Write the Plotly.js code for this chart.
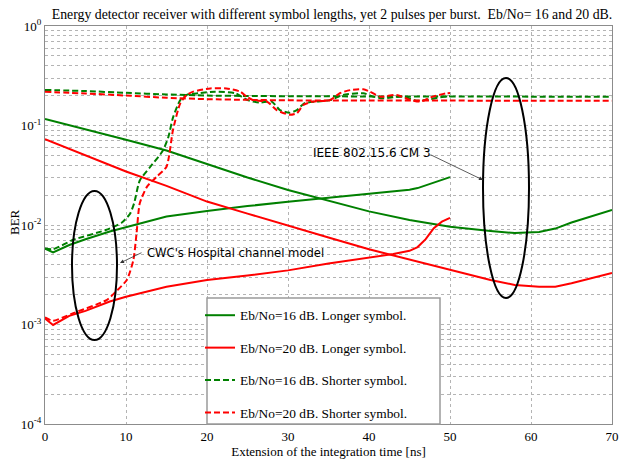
<!DOCTYPE html>
<html><head><meta charset="utf-8">
<script src="https://cdn.plot.ly/plotly-3.0.1.min.js"></script>
<style>html,body{margin:0;padding:0;background:#fff}#chart{width:619px;height:460px}</style>
</head><body><div id="chart"></div>
<script>
// ---- Data ----
const chartTitle = 'Energy detector receiver with different symbol lengths, yet 2 pulses per burst.  Eb/No= 16 and 20 dB.';
const xTitle = 'Extension of the integration time [ns]';
const yTitle = 'BER';
const seriesNames = ['Eb/No=16 dB. Longer symbol.', 'Eb/No=20 dB. Longer symbol.', 'Eb/No=16 dB. Shorter symbol.', 'Eb/No=20 dB. Shorter symbol.'];
const xTickVals = [0, 10, 20, 30, 40, 50, 60, 70];
const yTickVals = [1e-4, 1e-3, 1e-2, 1e-1, 1];
const yTickText = ['10<sup>-4</sup>', '10<sup>-3</sup>', '10<sup>-2</sup>', '10<sup>-1</sup>', '10<sup>0</sup>'];
const noteCM3 = 'IEEE 802.15.6 CM 3';
const noteCWC = "CWC's Hospital channel model";

// IEEE 802.15.6 CM 3 channel, longer symbol
const cm3LongX   = [0, 5, 10, 15, 20, 25, 30, 35, 40, 45, 50, 55, 58, 61, 63, 65, 70];
const cm3Long16  = [0.116, 0.092, 0.072, 0.056, 0.041, 0.030, 0.0225, 0.0175, 0.0137, 0.0112, 0.0096, 0.0087, 0.0083, 0.0085, 0.0092, 0.0106, 0.0142];
const cm3Long20  = [0.073, 0.050, 0.0345, 0.0247, 0.0172, 0.0130, 0.0098, 0.0075, 0.0057, 0.0045, 0.0035, 0.0028, 0.0025, 0.0024, 0.0024, 0.0026, 0.0033];
// IEEE 802.15.6 CM 3 channel, shorter symbol
const cm3ShortX  = [0, 5, 10, 15, 20, 25, 30, 40, 50, 60, 70];
const cm3Short16 = [0.228, 0.222, 0.213, 0.205, 0.200, 0.198, 0.197, 0.196, 0.196, 0.195, 0.195];
const cm3Short20 = [0.218, 0.210, 0.200, 0.190, 0.184, 0.181, 0.179, 0.178, 0.178, 0.177, 0.177];
// CWC hospital channel, longer symbol
const cwcLongX   = [0, 1, 3, 5, 8, 10, 15, 20, 25, 30, 35, 40, 43, 45, 46, 47, 48, 49, 50];
const cwcLong16  = [0.0058, 0.0053, 0.0063, 0.0072, 0.0086, 0.0095, 0.0122, 0.0138, 0.0155, 0.0171, 0.0188, 0.0207, 0.0216, 0.0226, 0.0235, 0.0250, 0.0268, 0.0285, 0.0303];
const cwcLong20  = [0.00115, 0.00099, 0.00122, 0.00137, 0.0017, 0.0019, 0.0024, 0.0028, 0.0031, 0.0035, 0.0041, 0.0047, 0.0051, 0.0055, 0.0060, 0.0072, 0.0093, 0.0108, 0.0118];
// CWC hospital channel, shorter symbol
const cwcShort16X = [0, 1, 3.5, 7.5, 9.5, 10.5, 11, 11.7, 13, 14.5, 15.2, 15.8, 16.7, 17.5, 19, 21, 23.5, 25, 26.5, 28, 29, 30.2, 31.1, 32, 33.5, 35.2, 36.8, 39.3, 40.5, 41.7, 44.2, 46, 47.5, 49.2, 50];
const cwcShort16  = [0.0058, 0.0057, 0.0071, 0.0089, 0.0106, 0.0130, 0.0165, 0.028, 0.0385, 0.055, 0.075, 0.12, 0.18, 0.203, 0.211, 0.219, 0.211, 0.180, 0.170, 0.174, 0.143, 0.134, 0.143, 0.167, 0.174, 0.180, 0.203, 0.211, 0.195, 0.188, 0.195, 0.177, 0.183, 0.195, 0.197];
const cwcShort20X = [0, 1, 3.5, 7.6, 8.9, 10.1, 10.9, 11.3, 11.7, 12.6, 13.8, 15, 15.8, 16.7, 17.5, 18.3, 20.4, 22.4, 24.1, 24.9, 25.7, 27.4, 28.6, 30.2, 31.1, 31.9, 33.1, 35.2, 36.4, 37.7, 39.3, 40.1, 41.4, 43.4, 45.1, 46.3, 47.9, 49.6, 50];
const cwcShort20  = [0.00118, 0.00109, 0.0013, 0.00176, 0.0022, 0.0028, 0.0044, 0.0082, 0.0165, 0.0243, 0.0306, 0.0385, 0.090, 0.167, 0.203, 0.219, 0.236, 0.236, 0.219, 0.195, 0.180, 0.174, 0.143, 0.128, 0.133, 0.161, 0.174, 0.180, 0.211, 0.227, 0.231, 0.219, 0.195, 0.203, 0.180, 0.174, 0.195, 0.211, 0.212];

// ---- Styles ----
const GREEN = '#008000', RED = '#ff0000';
const SERIF = '"Liberation Serif", "Times New Roman", serif';
const SANS = '"DejaVu Sans", Verdana, sans-serif';
const DASH = '6px,3px';
const GRID = '#b4b4b4';

function tr(x, y, color, dashed, idx, show, spline) {
  return {
    type: 'scatter', mode: 'lines', x: x, y: y,
    name: seriesNames[idx], legendgroup: 'g' + idx, showlegend: show,
    line: {color: color, width: 2, dash: dashed ? DASH : 'solid', shape: spline ? 'spline' : 'linear', smoothing: 0.6},
    hoverinfo: 'x+y+name'
  };
}

const data = [
  tr(cm3LongX, cm3Long16, GREEN, false, 0, true),
  tr(cwcLongX, cwcLong16, GREEN, false, 0, false),
  tr(cm3LongX, cm3Long20, RED, false, 1, true),
  tr(cwcLongX, cwcLong20, RED, false, 1, false),
  tr(cm3ShortX, cm3Short16, GREEN, true, 2, true, true),
  tr(cwcShort16X, cwcShort16, GREEN, true, 2, false, true),
  tr(cm3ShortX, cm3Short20, RED, true, 3, true, true),
  tr(cwcShort20X, cwcShort20, RED, true, 3, false, true)
];

const minorY = [];
for (let e = -4; e < 0; e++) for (let m = 2; m <= 9; m++) minorY.push(m * Math.pow(10, e));

// plot area: x 45..612, y 26..424
const PL = 45, PR = 612, PT = 26, PB = 424;
const px = v => (v - PL) / (PR - PL);
const py = v => (PB - v) / (PB - PT);

const layout = {
  width: 619, height: 460,
  margin: {l: PL, r: 619 - PR, t: PT, b: 460 - PB},
  paper_bgcolor: '#ffffff', plot_bgcolor: '#ffffff',
  showlegend: true,
  title: {text: chartTitle, font: {family: SERIF, size: 13.8, color: '#000'}, xref: 'container', x: 332 / 619, xanchor: 'center', yref: 'container', y: 1 - 14 / 460, yanchor: 'middle'},
  xaxis: {
    range: [0, 70], tickmode: 'array', tickvals: xTickVals, ticks: '',
    showgrid: true, gridcolor: GRID, griddash: 'dot', gridwidth: 1,
    showline: true, linecolor: '#8c8c8c', linewidth: 1, mirror: true, zeroline: false,
    tickfont: {family: SERIF, size: 13, color: '#000'},
    title: {text: xTitle, font: {family: SERIF, size: 13, color: '#000'}, standoff: 2}
  },
  yaxis: {
    type: 'log', range: [-4, 0], tickmode: 'array', tickvals: yTickVals, ticktext: yTickText, ticks: '',
    showgrid: true, gridcolor: GRID, griddash: 'dot', gridwidth: 1,
    minor: {tickmode: 'array', tickvals: minorY, showgrid: true, gridcolor: GRID, griddash: 'dot', gridwidth: 1, ticks: ''},
    showline: true, linecolor: '#8c8c8c', linewidth: 1, mirror: true, zeroline: false,
    tickfont: {family: SERIF, size: 13, color: '#000'}
  },
  legend: {
    x: px(200), y: py(300), xanchor: 'left', yanchor: 'top',
    bgcolor: 'rgba(0,0,0,0)', borderwidth: 0, tracegroupgap: 12,
    font: {family: SERIF, size: 13.4, color: '#000'}
  },
  shapes: [
    {type: 'rect', xref: 'paper', yref: 'paper', x0: px(207), x1: px(440), y0: 0, y1: py(298), fillcolor: '#ffffff', line: {color: '#9a9a9a', width: 1.5}, layer: 'above'},
    {type: 'circle', xref: 'paper', yref: 'paper', x0: px(72), x1: px(117), y0: py(340), y1: py(191), line: {color: '#000', width: 2}, layer: 'above'},
    {type: 'circle', xref: 'paper', yref: 'paper', x0: px(483), x1: px(529), y0: py(298), y1: py(78), line: {color: '#000', width: 2}, layer: 'above'}
  ],
  annotations: [
    {xref: 'paper', yref: 'paper', x: px(14), y: py(222), xanchor: 'center', yanchor: 'middle', text: yTitle, textangle: -90, showarrow: false, font: {family: SERIF, size: 13, color: '#000'}},
    {xref: 'paper', yref: 'paper', x: px(311), y: py(153), xanchor: 'left', yanchor: 'middle', text: noteCM3, showarrow: false, font: {family: SANS, size: 12, color: '#000'}},
    {xref: 'paper', yref: 'paper', x: px(145), y: py(253), xanchor: 'left', yanchor: 'middle', text: noteCWC, showarrow: false, font: {family: SANS, size: 11.6, color: '#000'}},
    {xref: 'paper', yref: 'paper', x: px(483), y: py(180), ax: -54, ay: -26, text: '', showarrow: true, arrowhead: 2, arrowsize: 1, arrowwidth: 0.8, arrowcolor: '#333'},
    {xref: 'paper', yref: 'paper', x: px(120), y: py(263), ax: 23, ay: -11, text: '', showarrow: true, arrowhead: 2, arrowsize: 1, arrowwidth: 0.8, arrowcolor: '#333'}
  ]
};

Plotly.newPlot('chart', data, layout, {displayModeBar: false, staticPlot: true});
</script></body></html>
